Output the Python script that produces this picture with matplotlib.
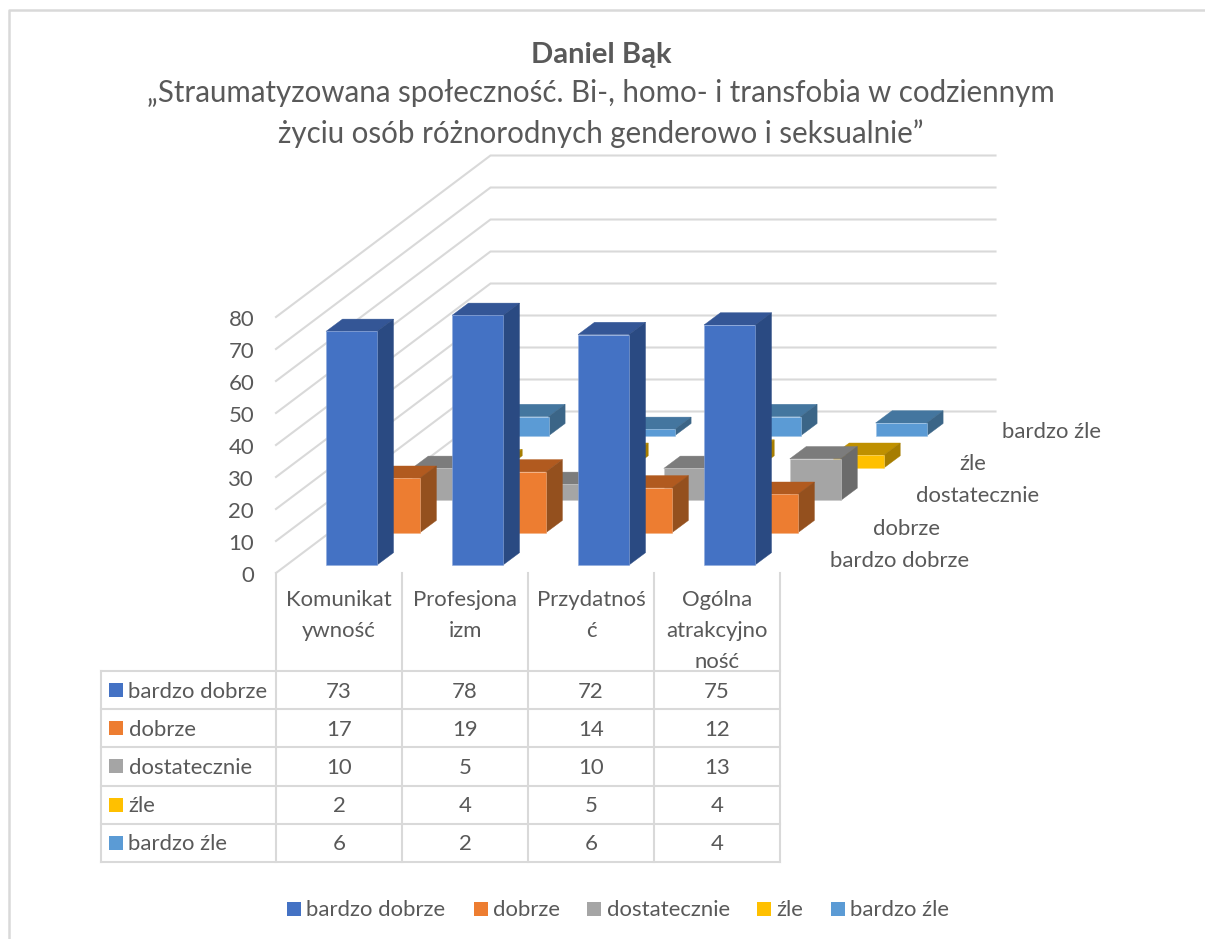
import matplotlib
matplotlib.use('Agg')
import matplotlib.pyplot as plt

plt.rcParams['font.family'] = ['Lato', 'DejaVu Sans']

# data
categories = ['Komunikat\nywność', 'Profesjona\nizm', 'Przydatnoś\nć', 'Ogólna\natrakcyjno\nność']
series = ['bardzo dobrze', 'dobrze', 'dostatecznie', 'źle', 'bardzo źle']
bardzo_dobrze = [73, 78, 72, 75]
dobrze = [17, 19, 14, 12]
dostatecznie = [10, 5, 10, 13]
zle = [2, 4, 5, 4]
bardzo_zle = [6, 2, 6, 4]
values = [bardzo_dobrze, dobrze, dostatecznie, zle, bardzo_zle]
ticks = list(range(0, 90, 10))

# colours: front, top, side
front = ['#4472C4', '#ED7D31', '#A5A5A5', '#FFC000', '#5B9BD5']
top = ['#345696', '#B15A1F', '#7C7C7C', '#BF9000', '#44769F']
side = ['#2A4A82', '#94501E', '#6B6B6B', '#A67D00', '#3B6587']
halo = ['#8FAADC', '#F4B183', '#C9C9C9', '#FFD966', '#9DC3E6']
grey = '#D9D9D9'
txt = '#595959'

# projection of the excel 3d chart, in pixels
x0 = 276
y0 = 573
cat_w = 126
unit = 3.2
step_x = 42.9
step_y = 32.3
bar_off = 50
bar_w = 51
depth_x = 16.5
depth_y = 12.3
base_drop = 8
n_cat = len(categories)
n_ser = len(series)
row_y = [671, 709, 747, 785.5, 823.5, 862]
fs = 15.9

fig = plt.figure(figsize=(12.05, 9.39), dpi=100)
ax = fig.add_axes([0, 0, 1, 1])
ax.set_xlim(0, 1205)
ax.set_ylim(939, 0)
ax.axis('off')

# chart frame, cut off on the right and at the bottom
ax.plot([9, 9, 1205], [939, 10, 10], color=grey, lw=1.8)

# walls
back_x = x0 + n_ser * step_x
back_y = y0 - n_ser * step_y
for t in ticks:
    y = y0 - t * unit
    ax.plot([x0, back_x, back_x + n_cat * cat_w + 1],
            [y, back_y - t * unit, back_y - t * unit], color=grey, lw=1.5, zorder=1)
    ax.text(254, y + 3.5, str(t), ha='right', va='center', fontsize=fs, color=txt)

# bars, the back row first
z = 2
for s in range(n_ser - 1, -1, -1):
    for c in range(n_cat):
        l = x0 + c * cat_w + bar_off + s * step_x
        r = l + bar_w
        b = y0 - base_drop - s * step_y
        t = b - values[s][c] * unit
        ax.fill([l, r, r + depth_x, l + depth_x], [t, t, t - depth_y, t - depth_y],
                fc=top[s], ec=top[s], lw=0.3, zorder=z)
        ax.fill([r, r + depth_x, r + depth_x, r], [t, t - depth_y, b - depth_y, b],
                fc=side[s], ec=side[s], lw=0.3, zorder=z)
        ax.fill([l, r, r, l], [b, b, t, t], fc=front[s], ec=halo[s], lw=0.4, zorder=z)
    z += 1

# series names along the depth axis
for s, name in enumerate(series):
    ax.text(830.5 + s * step_x, 561 - s * step_y, name, ha='left', va='center',
            fontsize=fs, color=txt, zorder=10)

# data table
for i in range(n_cat + 1):
    xx = x0 + i * cat_w
    ax.plot([xx, xx], [y0, row_y[-1]], color=grey, lw=1.5)
ax.plot([101, 101], [row_y[0], row_y[-1]], color=grey, lw=1.5)
for y in row_y:
    ax.plot([101, x0 + n_cat * cat_w], [y, y], color=grey, lw=1.5)
for c, cat in enumerate(categories):
    for j, line in enumerate(cat.split('\n')):
        ax.text(x0 + (c + 0.5) * cat_w, 600 + j * 31, line, ha='center', va='center',
                fontsize=fs, color=txt)
for s, name in enumerate(series):
    yc = (row_y[s] + row_y[s + 1]) / 2
    ax.fill([109, 123, 123, 109], [yc - 7, yc - 7, yc + 7, yc + 7], fc=front[s], lw=0)
    ax.text(128.5, yc + 1.5, name, ha='left', va='center', fontsize=fs, color=txt)
    for c in range(n_cat):
        ax.text(x0 + (c + 0.5) * cat_w, yc + 1.5, str(values[s][c]), ha='center', va='center',
                fontsize=fs, color=txt)

# legend
leg_x = [287, 474, 587, 757, 831]
for s, name in enumerate(series):
    ax.fill([leg_x[s], leg_x[s] + 14, leg_x[s] + 14, leg_x[s]], [902, 902, 916, 916], fc=front[s], lw=0)
    ax.text(leg_x[s] + 19.5, 910.5, name, ha='left', va='center', fontsize=fs, color=txt)

# title
ax.text(601, 55, 'Daniel Bąk', ha='center', va='center', fontsize=21, fontweight='bold', color=txt)
ax.text(601, 93, '„Straumatyzowana społeczność. Bi-, homo- i transfobia w codziennym',
        ha='center', va='center', fontsize=21.25, color=txt)
ax.text(601, 134, 'życiu osób różnorodnych genderowo i seksualnie”',
        ha='center', va='center', fontsize=21.25, color=txt)

fig.savefig('out.png', dpi=100)
